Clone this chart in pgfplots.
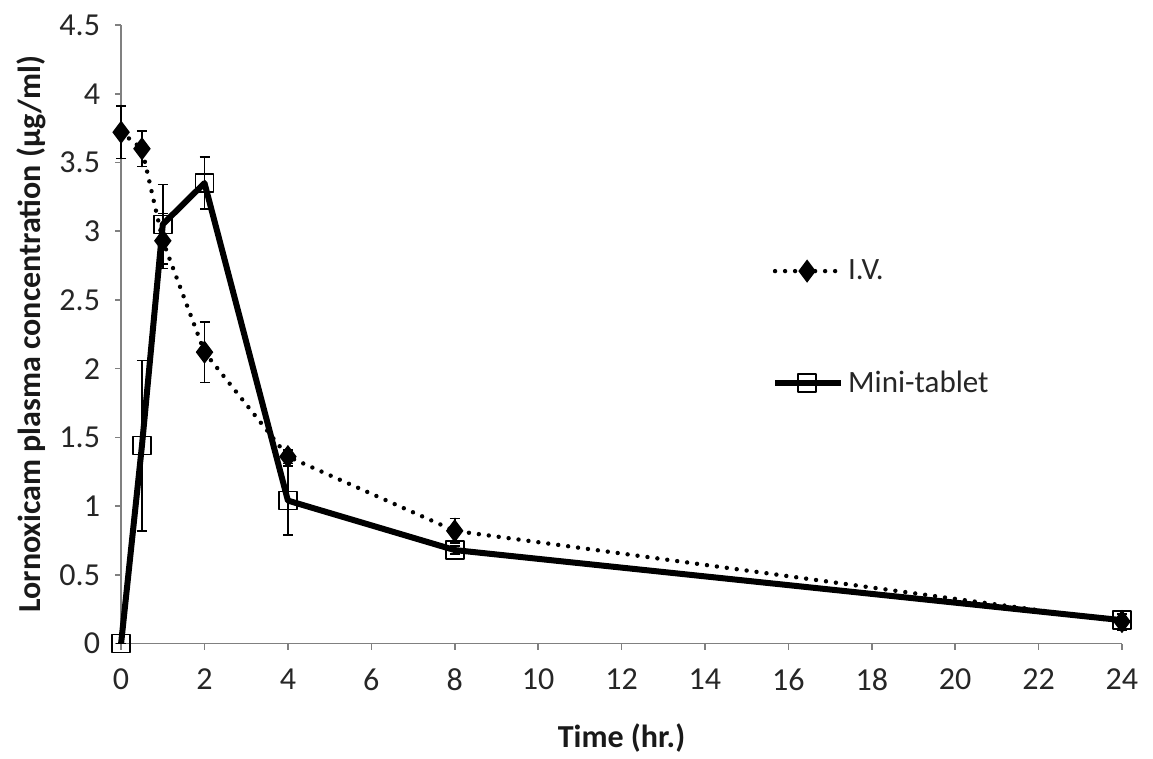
\documentclass[border=0pt]{standalone}
\usepackage{pgfplots}
\pgfplotsset{compat=1.18}
\usepackage{fontspec}
\setmainfont{Carlito}
\begin{document}
\begin{tikzpicture}
\begin{axis}[
  scale only axis,
  width=500pt, height=309pt,
  xmin=0, xmax=24, ymin=0, ymax=4.5,
  xtick={0,2,...,24}, ytick={0,0.5,...,4.5},
  axis x line*=bottom, axis y line*=left,
  axis line style={gray, line width=0.8pt, -},
  tick style={gray, line width=0.8pt},
  tick align=outside, major tick length=3pt,
  ticklabel style={font=\fontsize{16}{18}\selectfont, text=black!85},
  xticklabel style={yshift=-6pt},
  yticklabel style={xshift=-4pt, /pgf/number format/.cd, fixed, precision=1},
  /pgf/number format/assume math mode=true,
  xlabel={\bfseries Time (hr.)},
  ylabel={\bfseries Lornoxicam plasma concentration (µg/ml)},
  every axis x label/.style={at={(axis description cs:0.5,0)}, anchor=center, yshift=-47pt},
  every axis y label/.style={at={(axis description cs:0,0.5)}, rotate=90, anchor=center, yshift=45pt},
  label style={font=\fontsize{16}{18}\selectfont, text=black!90},
  clip=false,
  legend style={draw=none, fill=none, at={(axis cs:15.6,2.3)}, anchor=west,
    font=\fontsize{15.5}{17}\selectfont, row sep=40pt, inner sep=0pt,
    cells={anchor=west}, text=black!85},
  legend cell align=left,
  legend image code/.code={
    \draw[#1, mark repeat=2, mark phase=2] plot coordinates {(0pt,0pt) (16pt,0pt) (33pt,0pt)};
  },
  after end axis/.code={
    \path (rel axis cs:0,0) ++(-60.5pt,-57.5pt);
    \path (rel axis cs:1,1) ++(15.5pt,12.5pt);
  },
]
\addplot[black, line width=2.2pt, dotted, line cap=round, dash pattern=on 0pt off 5pt,
  mark=diamond*, mark size=4pt, mark options={solid, fill=black},
  error bars/.cd, y dir=both, y explicit,
  error bar style={line width=0.8pt, solid}, error mark options={rotate=90, mark size=2.5pt, line width=0.8pt}]
  coordinates {
  (0,3.72) +- (0,0.19)
  (0.5,3.60) +- (0,0.13)
  (1,2.93) +- (0,0.2)
  (2,2.12) +- (0,0.22)
  (4,1.36) +- (0,0.05)
  (8,0.82) +- (0,0.09)
  (24,0.16) +- (0,0.06)
  };
\addlegendentry{I.V.}
\addplot[black, line width=3pt, line join=round,
  mark=square, mark size=4.5pt, mark options={solid, line width=0.8pt},
  error bars/.cd, y dir=both, y explicit,
  error bar style={line width=0.8pt, solid}, error mark options={rotate=90, mark size=2.5pt, line width=0.8pt}]
  coordinates {
  (0,0) +- (0,0)
  (0.5,1.44) +- (0,0.62)
  (1,3.05) +- (0,0.29)
  (2,3.35) +- (0,0.19)
  (4,1.04) +- (0,0.25)
  (8,0.68) +- (0,0.03)
  (24,0.17) +- (0,0.04)
  };
\addlegendentry{Mini-tablet}
\end{axis}
\end{tikzpicture}
\end{document}
